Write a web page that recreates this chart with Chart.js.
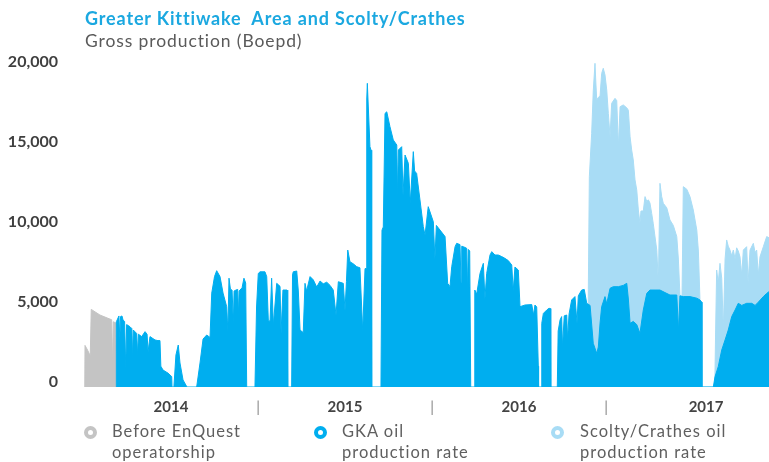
<!DOCTYPE html>
<html lang="en">
<head>
<meta charset="UTF-8">
<title>Greater Kittiwake Area and Scolty/Crathes</title>
<script src="https://cdn.jsdelivr.net/npm/chart.js"></script>
<style>
    body { margin: 0; background: #fff; font-family: Lato, sans-serif; }
    .wrap { position: relative; width: 769px; height: 462px; overflow: hidden; }
    #prodChart { position: absolute; left: 0; top: 0; }
    .title {
        position: absolute; left: 85px; top: 7px;
        font-size: 18px; font-weight: bold; color: #1ba8e0;
        letter-spacing: 0.85px; white-space: pre;
    }
    .subtitle {
        position: absolute; left: 85px; top: 30px;
        font-size: 17.5px; color: #5a5a5a; letter-spacing: 0.9px;
    }
    .legend-item { position: absolute; top: 421px; }
    .ring {
        position: absolute; left: 0; top: 5px;
        width: 13px; height: 13px; border-radius: 50%;
        border: 4.5px solid; box-sizing: border-box;
    }
    .legend-item .text {
        position: absolute; top: 0; font-size: 16.5px; line-height: 21px;
        color: #5f5f5f; white-space: nowrap; letter-spacing: 1px;
    }
</style>
</head>
<body>
<div class="wrap">
    <canvas id="prodChart" width="769" height="462"></canvas>
    <div class="title">Greater Kittiwake  Area and Scolty/Crathes</div>
    <div class="subtitle">Gross production (Boepd)</div>

    <div class="legend-item" style="left:84px">
        <span class="ring" style="border-color:#c4c4c4"></span>
        <span class="text" style="left:28px">Before EnQuest<br>operatorship</span>
    </div>
    <div class="legend-item" style="left:314px">
        <span class="ring" style="border-color:#00aeef"></span>
        <span class="text" style="left:28px">GKA oil<br>production rate</span>
    </div>
    <div class="legend-item" style="left:551px">
        <span class="ring" style="border-color:#a8dcf5"></span>
        <span class="text" style="left:29px">Scolty/Crathes oil<br>production rate</span>
    </div>
</div>
<script>
    // x = months since Jan 2014, y = boepd
    const beforeEnquest = [
        [0.05,0],[0.07,2600],[0.25,2300],[0.43,1950],[0.5,4850],[1.1,4500],[1.91,4200],
        [1.97,1200],[2.02,4080],[2.2,4000],[2.21,0]
    ];

    const gkaRate = [
        [2.22,0],[2.23,4080],[2.41,4440],[2.47,3000],[2.52,4400],[2.62,4440],[2.69,4190],[2.8,4100],
        [2.88,1200],[2.94,3900],[3.17,3770],[3.3,3650],[3.35,1800],[3.4,3560],[3.63,3350],[3.7,2000],
        [3.75,3300],[3.98,3150],[4.21,3460],[4.35,3300],[4.42,2200],[4.55,3150],[4.9,2940],[5.1,2900],
        [5.24,2900],[5.3,1300],[5.45,1060],[5.79,870],[6.05,650],[6.07,0],
        [6.2,0],[6.34,2000],[6.5,2625],[6.62,1500],[6.83,440],[7.1,0],
        [7.77,0],[8.0,1500],[8.21,3000],[8.46,3250],[8.69,3100],[8.81,5870],[9.0,6900],[9.15,7270],
        [9.38,6900],[9.59,5870],[9.84,5020],[9.92,3500],[10.0,6800],[10.1,6100],[10.21,6060],[10.3,4000],
        [10.35,6000],[10.48,6060],[10.6,6100],[10.65,4500],[10.7,6000],[10.76,6060],[10.9,6200],
        [11.03,6800],[11.15,6500],[11.22,0],
        [11.79,0],[11.9,5000],[12.02,7100],[12.14,7200],[12.48,7200],[12.6,6900],[12.71,4190],
        [12.83,4100],[12.94,6800],[13.06,3875],[13.29,6480],[13.52,6290],[13.59,3375],[13.72,6060],
        [14.0,6060],[14.05,0],
        [14.32,0],[14.38,7000],[14.43,7200],[14.67,7250],[14.78,6000],[14.9,3560],[15.12,3400],
        [15.24,6480],[15.35,6000],[15.59,6900],[15.81,6700],[16.05,6250],[16.28,6625],[16.5,6450],
        [16.74,6550],[16.97,6350],[17.19,6060],[17.38,4500],[17.54,6580],[17.88,6480],[18.0,4800],
        [18.1,6600],[18.19,8560],[18.34,7830],[18.57,7700],[18.81,7520],[19.03,7450],[19.22,3500],
        [19.38,7400],[19.45,7400],[19.5,18000],[19.54,18980],[19.72,15020],[19.8,14800],[19.84,0],
        [20.48,0],[20.55,9800],[20.64,10000],[20.76,17100],[20.88,17200],[21.1,16270],[21.33,15440],
        [21.57,15125],[21.62,12000],[21.68,14810],[21.91,15020],[22.0,12000],[22.14,14500],
        [22.37,13980],[22.5,11500],[22.71,14710],[22.8,13500],[22.94,13350],[23.17,11690],
        [23.4,10020],[23.52,9500],[23.74,11270],[24.09,10330],[24.2,8000],[24.3,10100],[24.55,9810],
        [24.9,9400],[25.08,6480],[25.24,6270],[25.36,7520],[25.59,8770],[25.7,8980],[25.93,8900],
        [26.0,6500],[26.05,8800],[26.16,8770],[26.39,8670],[26.45,6000],[26.5,8600],[26.6,8500],[26.67,0],
        [26.92,0],[26.95,6060],[27.08,5800],[27.31,7100],[27.54,7730],[27.65,5500],[27.77,7100],
        [28.0,8250],[28.12,8460],[28.34,8250],[28.57,8250],[28.81,8150],[29.03,8040],[29.26,7900],
        [29.5,7625],[29.6,6000],[29.72,7500],[29.95,7310],[30.07,5020],[30.41,5125],[30.88,5150],
        [31.0,4500],[31.1,5125],[31.22,5000],[31.33,1300],[31.35,0],
        [31.52,0],[31.57,3980],[31.68,4600],[31.91,4810],[32.07,4920],[32.17,4900],[32.19,0],
        [32.64,0],[32.7,3500],[32.83,4190],[32.94,4400],[33.0,2500],[33.12,4450],[33.29,4500],
        [33.35,3000],[33.45,4550],[33.63,5440],[33.86,5650],[34.0,4000],[34.09,5700],[34.32,6060],
        [34.5,6100],[34.67,5230],[34.9,5100],[35.12,2730],[35.36,2100],[35.47,2500],[35.59,4000],
        [35.7,5020],[35.93,5650],[36.05,5200],[36.28,6170],[36.5,6270],[36.85,6270],[37.19,6350],
        [37.43,6480],[37.54,5500],[37.66,3980],[37.88,4100],[38.12,3900],[38.34,3350],[38.57,4810],
        [38.81,5850],[39.03,6060],[39.38,6060],[39.72,6060],[40.07,5900],[40.41,5750],[40.88,5750],
        [41.0,3500],[41.1,5700],[41.33,5650],[41.79,5650],[42.26,5550],[42.48,5440],[42.6,5300],[42.61,0],
        [43.4,0],[43.52,650],[43.74,1270],[43.98,2310],[44.21,2940],[44.43,3560],[44.67,4400],
        [44.9,4810],[45.12,5230],[45.36,5100],[45.7,5230],[46.05,5230],[46.28,5100],[46.5,5300],
        [46.85,5650],[47.08,5850],[47.3,6000]
    ];

    // GKA + Scolty/Crathes (top of the light blue area)
    const gkaPlusScolty = [
        [34.75,0],[34.78,6100],[34.85,13140],[35.01,15850],[35.12,18500],[35.24,20230],[35.3,19000],
        [35.36,17940],[35.47,18100],[35.59,18200],[35.7,19600],[35.81,19920],[35.93,19500],
        [36.05,18560],[36.16,17100],[36.28,15640],[36.39,17730],[36.62,18040],[36.74,17900],
        [36.85,15000],[36.97,17520],[37.19,17630],[37.43,17450],[37.54,17300],[37.66,15640],
        [37.77,14810],[37.88,14190],[38.0,12940],[38.12,12310],[38.23,11060],[38.34,10230],
        [38.41,11000],[38.57,11000],[38.69,11900],[38.81,11600],[38.92,11700],[39.03,11500],
        [39.15,10850],[39.26,10200],[39.5,8560],[39.61,6500],[39.72,12730],[39.84,11900],
        [39.95,11480],[40.19,11200],[40.41,10440],[40.64,10100],[40.88,9400],[40.99,8000],
        [41.1,5700],[41.22,4000],[41.33,12520],[41.57,12360],[41.79,11900],[42.02,11060],
        [42.26,9810],[42.37,8500],[42.48,5440],[42.6,5300],[42.61,0],
        [43.5,0],[43.55,3000],[43.63,7310],[43.74,6500],[43.86,7730],[43.98,6800],[44.09,3500],
        [44.21,8000],[44.32,9190],[44.43,8800],[44.55,8560],[44.67,8200],[44.78,8560],[44.9,8000],
        [45.01,8700],[45.12,8500],[45.24,8140],[45.36,7000],[45.47,8560],[45.7,8770],[45.8,6500],
        [45.93,8560],[46.16,8980],[46.28,8400],[46.39,8560],[46.5,7000],[46.62,8140],[46.85,8770],
        [47.08,9400],[47.3,9300]
    ];

    const yTicks = [0, 5000, 10000, 15000, 20000];
    const xTickMonths = [6, 12, 18, 24, 30, 36, 42.9];
    const xTickLabels = ['2014', '|', '2015', '|', '2016', '|', '2017'];

    const toPoints = arr => arr.map(p => ({ x: p[0], y: p[1] }));

    function area(label, data, color, order) {
        return {
            label: label,
            data: toPoints(data),
            backgroundColor: color,
            borderColor: color,
            borderWidth: 1,
            pointRadius: 0,
            tension: 0,
            fill: 'origin',
            order: order
        };
    }

    new Chart(document.getElementById('prodChart'), {
        type: 'line',
        data: {
            datasets: [
                area('GKA oil production rate', gkaRate, '#00aeef', 0),
                area('Before EnQuest operatorship', beforeEnquest, '#c4c4c4', 1),
                area('Scolty/Crathes oil production rate', gkaPlusScolty, '#a8dcf5', 2)
            ]
        },
        options: {
            responsive: false,
            animation: false,
            layout: { padding: { top: 59, left: 0, right: 0, bottom: 0 } },
            plugins: {
                legend: { display: false },
                tooltip: { enabled: false }
            },
            scales: {
                x: {
                    type: 'linear',
                    min: 0,
                    max: 47.24,
                    grid: { display: false },
                    border: { display: false },
                    afterFit: s => { s.height = 75; },
                    afterBuildTicks: s => { s.ticks = xTickMonths.map(v => ({ value: v })); },
                    ticks: {
                        padding: 3,
                        autoSkip: false,
                        maxRotation: 0,
                        callback: (v, i) => xTickLabels[i],
                        color: c => xTickLabels[c.index] === '|' ? '#8a8a8a' : '#444',
                        font: c => xTickLabels[c.index] === '|'
                            ? { family: 'Lato', size: 15, weight: 'normal' }
                            : { family: 'Lato', size: 15, weight: 'bold' }
                    }
                },
                y: {
                    min: 0,
                    max: 20500,
                    grid: { display: false },
                    border: { display: false },
                    afterFit: s => { s.width = 84; },
                    afterBuildTicks: s => { s.ticks = yTicks.map(v => ({ value: v })); },
                    ticks: {
                        padding: 18,
                        labelOffset: -5,
                        color: '#3f3f3f',
                        font: { family: 'Lato', size: 16, weight: 'bold' },
                        callback: v => v.toLocaleString('en-US')
                    }
                }
            }
        }
    });
</script>
</body>
</html>
